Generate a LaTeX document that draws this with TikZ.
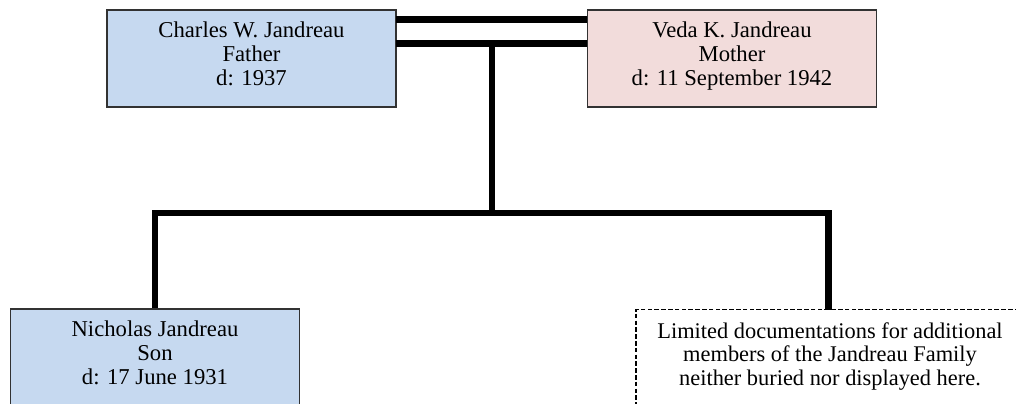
\documentclass[tikz,border=0pt]{standalone}
\usepackage{fontspec}
\setmainfont{Liberation Serif}
\definecolor{fbox}{RGB}{198,217,240}
\definecolor{mbox}{RGB}{242,220,219}
\definecolor{edge}{RGB}{50,50,50}
\tikzset{
  person/.style={draw=edge, line width=1.1pt, minimum width=217pt, minimum height=72.75pt,
    align=center, inner sep=0pt, text depth=7pt, font=\fontsize{17pt}{17.8pt}\selectfont},
  notebox/.style={draw=black, line width=1pt, dash pattern=on 3.5pt off 1.6pt, fill=white,
    minimum width=291pt, minimum height=72.75pt, align=center, inner sep=0pt, text depth=6pt,
    font=\fontsize{16.8pt}{17.4pt}\selectfont},
  conn/.style={line width=4.8pt, line join=miter}
}
\begin{document}
\begin{tikzpicture}[x=0.75pt,y=-0.75pt]
\useasboundingbox (0,0) rectangle (1016,403);
\clip (0,0) rectangle (1016,403);
\fill[white] (0,0) rectangle (1016,403);
\node[person, fill=fbox] (father) at (251.5,58.5) {Charles W. Jandreau\\Father\\d: 1937};
\node[person, fill=mbox] (mother) at (732,58.5) {Veda K. Jandreau\\Mother\\d: 11 September 1942};
\node[person, fill=fbox] (son) at (155,357.5) {Nicholas Jandreau\\Son\\d: 17 June 1931};
\node[notebox] (note) at (830,358) {Limited documentations for additional\\members of the Jandreau Family\\neither buried nor displayed here.};
\coordinate (a1) at (396,19.5);
\coordinate (a2) at (396,43.5);
\coordinate (m) at (492,43.5);
\coordinate (j) at (492,213);
\coordinate (nt) at (828.5,310);
\draw[conn] (a1) -- (a1 -| mother.west);
\draw[conn] (a2) -- (a2 -| mother.west);
\draw[conn] (m) -- (j);
\draw[conn] (son.north) |- (nt |- j) -- (nt);
\end{tikzpicture}
\end{document}
